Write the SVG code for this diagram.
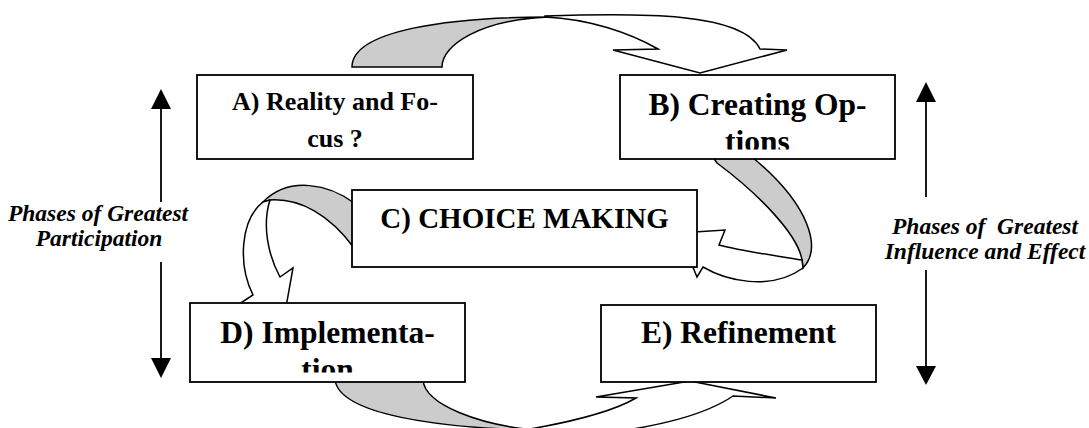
<svg xmlns="http://www.w3.org/2000/svg" width="1089" height="428" viewBox="0 0 1089 428">
<style>
.box{fill:#fff;stroke:#000;stroke-width:1.8}
.t{font-family:"Liberation Serif","Times New Roman",serif;font-weight:bold;text-anchor:middle;fill:#000}
.side{font-family:"Liberation Serif","Times New Roman",serif;font-weight:bold;font-style:italic;text-anchor:middle;fill:#000;font-size:23.5px}
.grey{fill:#cccccc;stroke:#000;stroke-width:1.5;stroke-linejoin:miter}
.white{fill:#fff;stroke:#000;stroke-width:1.5;stroke-linejoin:miter}
.ax{stroke:#000;stroke-width:1.8;fill:none}
.ah{fill:#000}
</style>
<defs>
<clipPath id="clipB"><rect x="620" y="75" width="275" height="74.5"/></clipPath>
<clipPath id="clipD"><rect x="190" y="303" width="275" height="69.5"/></clipPath>
</defs>
<g id="connectors">
<!-- A to B -->
<path class="grey" d="M352,67 C352,30 450,17 548,17 C480,20 442,45 442,67 Z"/>
<path class="white" d="M545,16 C640,13 742,12 760,49 L787,50 L700,73 L613,50 L658,49 C630,33 590,19 545,17 Z"/>
<!-- B to C -->
<path class="grey" d="M712,156 L717,163 C760,195 798,235 802,260 L803,268 C822,248 810,205 752,157 Z"/>
<path class="white" d="M802,260 C780,256 745,252 719,245 L725,230 L679,233 L697,277 L703,267 C725,280 770,292 803,268 Z"/>
<!-- C to D -->
<path class="grey" d="M354,203 C330,185 290,175 263,202 L270,200 C300,198 330,215 354,248 Z"/>
<path class="white" d="M263,202 C240,220 238,265 253,295 L236,306 L281,335 L293,268 L280,277 C268,255 262,225 270,200 Z"/>
<!-- D to E -->
<path class="grey" d="M335,380 C340,415 440,428 535,430 C480,425 425,405 423,380 Z"/>
<path class="white" d="M530,429 C570,422 612,412 636,398 L596,397 L690,381 L776,398 L733,396 C705,415 660,426 600,434 L560,440 Z"/>
<!-- side arrows -->
<line class="ax" x1="161" y1="108" x2="161" y2="202"/>
<polygon class="ah" points="161,89 151,109 171,109"/>
<line class="ax" x1="161" y1="262" x2="161" y2="359"/>
<polygon class="ah" points="161,378 151,358 171,358"/>
<line class="ax" x1="926" y1="101" x2="926" y2="197"/>
<polygon class="ah" points="926,82 916,102 936,102"/>
<line class="ax" x1="926" y1="270" x2="926" y2="367"/>
<polygon class="ah" points="926,385 916,366 936,366"/>
</g>
<g id="nodeA">
<rect class="box" x="197" y="75" width="276" height="84"/>
<text class="t" x="335" y="110" font-size="26">A) Reality and Fo-</text>
<text class="t" x="335" y="147" font-size="26">cus ?</text>
</g>
<g id="nodeB">
<rect class="box" x="620" y="75" width="275" height="84"/>
<g clip-path="url(#clipB)">
<text class="t" x="757.5" y="115" font-size="31.5">B) Creating Op-</text>
<text class="t" x="757.5" y="152" font-size="31.5">tions</text>
</g>
</g>
<g id="nodeC">
<rect class="box" x="352" y="190" width="345" height="77"/>
<text class="t" x="524.5" y="228" font-size="29">C) CHOICE MAKING</text>
</g>
<g id="nodeD">
<rect class="box" x="190" y="303" width="275" height="79"/>
<g clip-path="url(#clipD)">
<text class="t" x="327.5" y="343" font-size="31.5">D) Implementa-</text>
<text class="t" x="327.5" y="380" font-size="31.5">tion</text>
</g>
</g>
<g id="nodeE">
<rect class="box" x="601" y="305" width="275" height="77"/>
<text class="t" x="738.5" y="343" font-size="31.5">E) Refinement</text>
</g>
<g id="labelLeft">
<text class="side" x="98" y="221">Phases of Greatest</text>
<text class="side" x="99" y="246">Participation</text>
</g>
<g id="labelRight">
<text class="side" x="985" y="234" xml:space="preserve">Phases of  Greatest</text>
<text class="side" x="985" y="259">Influence and Effect</text>
</g>
</svg>
